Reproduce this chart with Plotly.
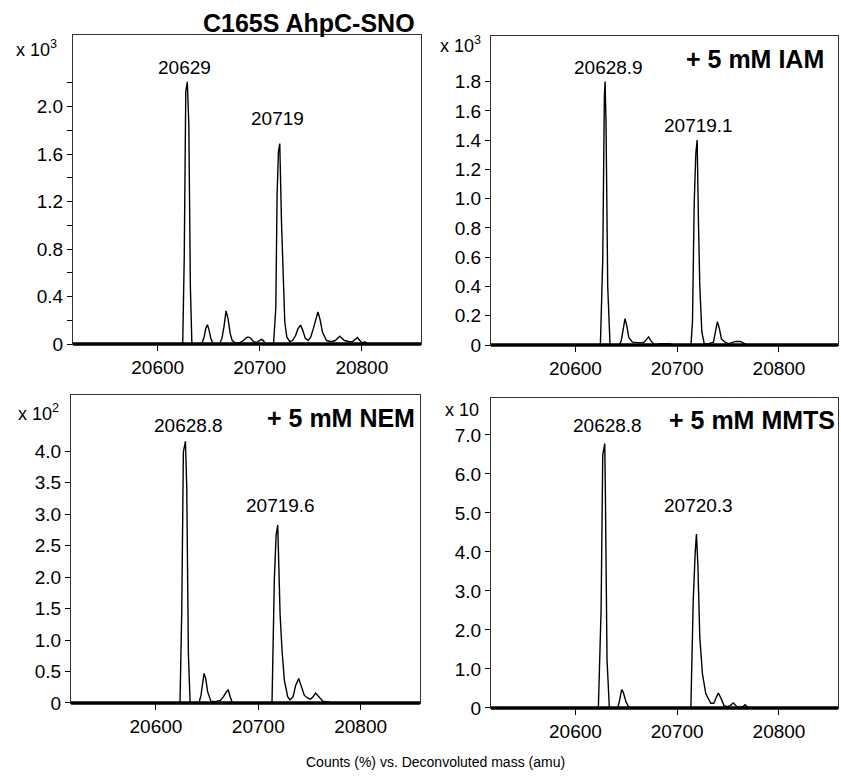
import plotly.graph_objects as go

W, H = 841, 784
FONT = "Liberation Sans, Arial, Helvetica, sans-serif"

# ---------------- data ----------------
X_RANGE = [20517, 20858]
x_tick_vals = [20600, 20700, 20800]
x_tick_text = ["20600", "20700", "20800"]

# Panel 1: C165S AhpC-SNO (x 10^3)
mass_sno = [
    20623, 20624.5, 20626, 20627.5, 20629, 20630.5, 20632, 20633.5,
    20641, 20643.5, 20645.5, 20647, 20648.7, 20650.3, 20652, 20654, 20656,
    20658, 20661, 20663, 20665, 20667, 20669, 20671, 20673, 20676,
    20680, 20684, 20686.5, 20688.5, 20691, 20694, 20697, 20699.5, 20701.6, 20703.5, 20706, 20709,
    20713.5, 20715.7, 20717, 20718.3, 20719.6, 20721.3, 20722.9, 20724.5, 20726.5, 20729.4,
    20732, 20735, 20737.5, 20740, 20742, 20744.5, 20747.4,
    20750, 20752.5, 20755, 20757, 20759, 20761.5, 20765.4,
    20770, 20774, 20776.5, 20778.4, 20780.5, 20783, 20787.6,
    20791, 20793.5, 20795.8, 20798, 20800.5, 20803, 20806]
counts_sno = [
    0, 0, 0.73, 2.13, 2.21, 1.85, 0.49, 0,
    0, 0.01, 0.06, 0.13, 0.163, 0.12, 0.05, 0.01, 0,
    0, 0.01, 0.05, 0.15, 0.28, 0.21, 0.09, 0.03, 0.01,
    0.01, 0.03, 0.05, 0.06, 0.05, 0.02, 0.015, 0.03, 0.04, 0.03, 0, 0,
    0, 0.30, 1.26, 1.62, 1.69, 1.03, 0.55, 0.19, 0.06, 0.02,
    0.03, 0.07, 0.13, 0.16, 0.12, 0.05, 0.03,
    0.06, 0.13, 0.22, 0.27, 0.21, 0.10, 0.03,
    0.02, 0.03, 0.05, 0.066, 0.05, 0.03, 0.02,
    0.02, 0.04, 0.055, 0.03, 0.01, 0.02, 0]

# Panel 2: + 5 mM IAM (x 10^3)
mass_iam = [
    20624.5, 20626.8, 20628.4, 20629.1, 20630, 20631.7, 20634,
    20643, 20645, 20647, 20648.7, 20650.5, 20652.5, 20656,
    20660, 20664, 20667.6, 20670, 20671.9, 20674, 20676.8, 20680,
    20682, 20688, 20693, 20695, 20712,
    20713.5, 20715, 20716.7, 20718.3, 20719.6, 20720.9, 20722.2, 20724.2, 20726.5,
    20731, 20735.6, 20737.5, 20739.5, 20741.5, 20743.5, 20747,
    20750, 20753, 20757.5, 20762, 20765, 20767.3, 20769]
counts_iam = [
    0, 0.58, 1.69, 1.80, 1.53, 0.40, 0,
    0, 0.03, 0.12, 0.18, 0.13, 0.05, 0.02,
    0.015, 0.015, 0.02, 0.04, 0.056, 0.03, 0.01, 0,
    0.01, 0.01, 0.01, 0, 0,
    0, 0.16, 0.97, 1.31, 1.40, 0.83, 0.40, 0.09, 0.01,
    0.01, 0.02, 0.09, 0.16, 0.11, 0.04, 0.02,
    0.01, 0.015, 0.025, 0.025, 0.015, 0.01, 0]

# Panel 3: + 5 mM NEM (x 10^2)
mass_nem = [
    20623.5, 20625.2, 20626.8, 20628.8, 20630.1, 20631.7, 20633.4,
    20642, 20644, 20645.5, 20647, 20648.5, 20650.5, 20653.6,
    20658, 20663, 20666, 20668.5, 20670.6, 20672.5, 20674.8,
    20712.4, 20713.4, 20715.7, 20717.4, 20719, 20720, 20721.3, 20723.2, 20725.5,
    20728.7, 20731, 20734, 20736.5, 20739.5, 20742, 20745, 20748.3,
    20751, 20753.5, 20756, 20758.5, 20763, 20766, 20769, 20770]
counts_nem = [
    0, 1.46, 3.99, 4.16, 3.44, 0.78, 0,
    0, 0.12, 0.35, 0.47, 0.40, 0.18, 0.03,
    0.02, 0.04, 0.10, 0.17, 0.21, 0.10, 0,
    0, 0, 1.98, 2.66, 2.83, 2.09, 1.41, 0.83, 0.36,
    0.10, 0.05, 0.10, 0.28, 0.39, 0.28, 0.12, 0.08,
    0.06, 0.10, 0.157, 0.11, 0.03, 0.02, 0.02, 0]

# Panel 4: + 5 mM MMTS (x 10)
mass_mmts = [
    20622.5, 20625.2, 20626.8, 20628.8, 20629.4, 20631, 20633.3,
    20641.5, 20643, 20644.2, 20645.4, 20647, 20649.7, 20652, 20654,
    20713.4, 20715.7, 20717.6, 20718.9, 20720.3, 20722.2, 20724.8, 20728.1, 20733,
    20736, 20738.5, 20740.5, 20743, 20746,
    20749, 20752, 20755.2, 20757, 20759, 20762, 20764.5, 20766.7, 20768.5, 20770]
counts_mmts = [
    0, 2.52, 6.48, 6.78, 5.51, 1.25, 0,
    0, 0.15, 0.38, 0.47, 0.40, 0.15, 0.04, 0,
    0, 2.73, 3.95, 4.46, 3.66, 1.80, 0.87, 0.36, 0.12,
    0.12, 0.28, 0.38, 0.25, 0.06,
    0.03, 0.06, 0.13, 0.08, 0.02, 0.01, 0.03, 0.08, 0.02, 0]

# y tick labels
ytv_sno = [0, 0.4, 0.8, 1.2, 1.6, 2.0]
ytt_sno = ["0", "0.4", "0.8", "1.2", "1.6", "2.0"]
ytv_sno_minor = [0.2, 0.6, 1.0, 1.4, 1.8, 2.2]
ytv_iam = [0, 0.2, 0.4, 0.6, 0.8, 1.0, 1.2, 1.4, 1.6, 1.8]
ytt_iam = ["0", "0.2", "0.4", "0.6", "0.8", "1.0", "1.2", "1.4", "1.6", "1.8"]
ytv_nem = [0, 0.5, 1.0, 1.5, 2.0, 2.5, 3.0, 3.5, 4.0]
ytt_nem = ["0", "0.5", "1.0", "1.5", "2.0", "2.5", "3.0", "3.5", "4.0"]
ytv_mmts = [0, 1, 2, 3, 4, 5, 6, 7]
ytt_mmts = ["0", "1.0", "2.0", "3.0", "4.0", "5.0", "6.0", "7.0"]

scale_labels = ["x 10<sup>3</sup>", "x 10<sup>3</sup>", "x 10<sup>2</sup>", "x 10"]
condition_labels = ["C165S AhpC-SNO", "+ 5 mM IAM", "+ 5 mM NEM", "+ 5 mM MMTS"]
peak_labels = [["20629", "20719"], ["20628.9", "20719.1"],
               ["20628.8", "20719.6"], ["20628.8", "20720.3"]]
x_title = "Counts (%) vs. Deconvoluted mass (amu)"


def fx(px):
    return px / W


def fy(py):
    return 1 - py / H


# ---------------- layout per panel (pixel boxes) ----------------
panels = [
    dict(m=mass_sno, c=counts_sno, box=(73, 421, 36, 349), ymax=2.6, tv=ytv_sno, tt=ytt_sno,
         minor=ytv_sno_minor, scale_xy=(36, 49), peak_xy=[(184, 68), (277, 120)]),
    dict(m=mass_iam, c=counts_iam, box=(491, 838, 37, 350), ymax=2.108, tv=ytv_iam, tt=ytt_iam,
         minor=None, scale_xy=(460, 45), peak_xy=[(608, 68), (698.5, 127)]),
    dict(m=mass_nem, c=counts_nem, box=(71, 420, 401, 713), ymax=4.89, tv=ytv_nem, tt=ytt_nem,
         minor=None, scale_xy=(38, 418), peak_xy=[(188, 432), (280, 513)]),
    dict(m=mass_mmts, c=counts_mmts, box=(491, 838, 404, 718), ymax=7.94, tv=ytv_mmts, tt=ytt_mmts,
         minor=None, scale_xy=(462, 416), peak_xy=[(607, 432), (698, 513)]),
]

fig = go.Figure()
annotations = []
shapes = []
axis_layout = {}

for i, p in enumerate(panels, start=1):
    sfx = "" if i == 1 else str(i)
    left, right, top, bottom = p["box"]
    fig.add_trace(go.Scatter(
        x=p["m"], y=p["c"], mode="lines",
        line=dict(color="black", width=1.4),
        xaxis="x" + sfx, yaxis="y" + sfx,
        showlegend=False, hoverinfo="skip"))
    axis_layout["xaxis" + sfx] = dict(
        domain=[fx(left), fx(right)], range=X_RANGE, anchor="y" + sfx,
        tickvals=x_tick_vals, ticktext=x_tick_text,
        ticks="outside", ticklen=6, tickwidth=1, tickcolor="black",
        showline=True, mirror=True, linecolor="#333", linewidth=1,
        showgrid=False, zeroline=False,
        tickfont=dict(family=FONT, size=19, color="black"))
    ya = dict(
        domain=[fy(bottom), fy(top)], range=[0, p["ymax"]], anchor="x" + sfx,
        tickvals=p["tv"], ticktext=p["tt"],
        ticks="outside", ticklen=5, tickwidth=1, tickcolor="black",
        showline=True, mirror=True, linecolor="#333", linewidth=1,
        showgrid=False, zeroline=False,
        tickfont=dict(family=FONT, size=19, color="black"))
    if p["minor"]:
        ya["minor"] = dict(tickmode="array", tickvals=p["minor"], ticks="outside",
                           ticklen=5, tickwidth=1, tickcolor="black", showgrid=False)
    axis_layout["yaxis" + sfx] = ya
    # thick baseline along the mass axis (paper coords so it is not clipped)
    shapes.append(dict(type="line", xref="paper", yref="paper",
                       x0=fx(left), x1=fx(right), y0=fy(bottom), y1=fy(bottom),
                       line=dict(color="black", width=3.5), layer="above"))
    sx, sy = p["scale_xy"]
    annotations.append(dict(text=scale_labels[i - 1], x=fx(sx), y=fy(sy),
                            xref="paper", yref="paper", showarrow=False,
                            xanchor="center", yanchor="middle",
                            font=dict(family=FONT, size=18, color="black")))
    for lbl, (lx, ly) in zip(peak_labels[i - 1], p["peak_xy"]):
        annotations.append(dict(text=lbl, x=fx(lx), y=fy(ly),
                                xref="paper", yref="paper", showarrow=False,
                                xanchor="center", yanchor="middle",
                                font=dict(family=FONT, size=19, color="black")))

cond_xy = [(309, 23), (755, 60), (341, 424), (752, 426)]
for lbl, (cx, cy) in zip(condition_labels, cond_xy):
    annotations.append(dict(text="<b>" + lbl + "</b>", x=fx(cx), y=fy(cy),
                            xref="paper", yref="paper", showarrow=False,
                            xanchor="center", yanchor="middle",
                            font=dict(family=FONT, size=25, color="black")))

annotations.append(dict(text=x_title, x=fx(435), y=fy(773),
                        xref="paper", yref="paper", showarrow=False,
                        xanchor="center", yanchor="middle",
                        font=dict(family=FONT, size=14, color="black")))

fig.update_layout(
    width=W, height=H,
    margin=dict(l=0, r=0, t=0, b=0),
    paper_bgcolor="white", plot_bgcolor="white",
    annotations=annotations, shapes=shapes,
    **axis_layout)

fig.write_html("out.html")
